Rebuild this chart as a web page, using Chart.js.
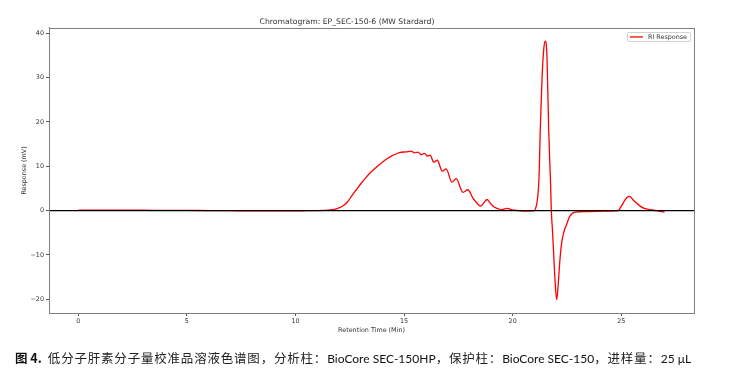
<!DOCTYPE html>
<html>
<head>
<meta charset="utf-8">
<script src="https://cdn.jsdelivr.net/npm/chart.js@4.4.1/dist/chart.umd.min.js"></script>
<style>
  html, body { margin: 0; padding: 0; background: #fff; }
  #wrap { position: relative; width: 748px; height: 369px; }
  #caption {
    position: absolute; left: 15px; top: 349px; white-space: nowrap;
    font-family: "Lato", "Noto Sans CJK SC", sans-serif; font-size: 12px; color: #111;
    line-height: 18px;
  }
  #caption .zh { font-family: "Noto Sans CJK SC", sans-serif; font-size: 12.5px; letter-spacing: 0.8px; color: #222; }
  #caption .first { margin-left: 3px; }
  #caption b { font-family: "Noto Sans CJK SC", sans-serif; font-weight: 700; font-size: 12.5px; }
</style>
</head>
<body>
<div id="wrap">
  <canvas id="chromChart"></canvas>
  <div id="caption"><b>图 4.</b> <span class="zh first">低分子肝素分子量校准品溶液色谱图，分析柱：</span>BioCore SEC-150HP<span class="zh">，保护柱：</span>BioCore SEC-150<span class="zh">，进样量：</span>25 μL</div>
</div>
<script>
// retention time (min) and RI response (mV)
const retention = [
  0, 1, 2, 3, 4, 5, 6, 7, 8, 9, 10, 10.5, 11, 11.3, 11.6, 11.8,
  12, 12.2, 12.4, 12.6, 12.8, 13, 13.25, 13.5, 13.75, 14, 14.25, 14.5, 14.79,
  15.1, 15.33, 15.48, 15.64, 15.79, 15.94, 16.07, 16.2, 16.37, 16.53, 16.76,
  16.94, 17.2, 17.4, 17.71, 17.94, 18.15, 18.35, 18.53, 18.68, 18.82, 18.98,
  19.15, 19.32, 19.48, 19.6, 19.74, 19.9, 20.17, 20.5, 20.8, 21, 21.06, 21.12,
  21.21, 21.24, 21.27, 21.35, 21.43, 21.5, 21.58, 21.66, 21.74, 21.78, 21.84,
  21.9, 21.96, 22.03, 22.1, 22.17, 22.25, 22.35, 22.47, 22.63, 22.86, 23.4,
  24, 24.5, 24.86, 25, 25.09, 25.2, 25.31, 25.38, 25.47, 25.55, 25.7, 25.85,
  26, 26.31, 26.6, 27
];
const response = [
  0.1, 0.1, 0.1, 0.08, 0.05, 0.03, 0, -0.02, -0.05, -0.05, -0.05, -0.03, 0, 0.05, 0.15, 0.3,
  0.6, 1.1, 2.0, 3.4, 4.7, 6.0, 7.5, 8.8, 9.9, 10.9, 11.8, 12.5, 13.1,
  13.25, 13.4, 13.0, 13.2, 12.6, 12.9, 12.3, 12.5, 10.9, 11.35, 8.9,
  9.4, 6.4, 7.2, 4.1, 4.7, 3.0, 1.7, 1.0, 1.8, 2.5, 1.6,
  0.8, 0.45, 0.2, 0.35, 0.5, 0.3, 0.05, -0.1, -0.1, 0, 0.6, 1.8,
  7, 12, 18, 29.6, 36.3, 38.2, 34.8, 18, 7, 0, -5,
  -11, -16.5, -20.1, -16.5, -11.5, -7.5, -5, -3.3, -1.3, -0.35, -0.2,
  -0.15, -0.1, 0, 1.0, 1.7, 2.6, 3.1, 3.2, 2.9, 2.4, 1.7, 1.1,
  0.6, 0.2, 0, -0.35
];

const xTicks = [0, 5, 10, 15, 20, 25];
const yTicks = [-20, -10, 0, 10, 20, 30, 40];
const X_MIN = -1.35, X_MAX = 28.35;
const Y_MIN = -23.1, Y_MAX = 41.2;

const tickFont = { family: "DejaVu Sans", size: 6.4 };

const frame = {
  id: "frame",
  afterDatasetsDraw(chart) {
    const { ctx, chartArea: a } = chart;
    ctx.save();
    ctx.strokeStyle = "#7f7f7f";
    ctx.lineWidth = 1;
    ctx.strokeRect(Math.round(a.left) + 0.5, Math.round(a.top) + 0.5,
      Math.round(a.right - a.left), Math.round(a.bottom - a.top));
    ctx.restore();
  },
  afterDraw(chart) {
    // matplotlib-like legend, top right inside the plot
    const ds = chart.data.datasets.find((d) => d.label);
    const { ctx, chartArea: a } = chart;
    ctx.save();
    ctx.font = "6.4px 'DejaVu Sans'";
    const tw = ctx.measureText(ds.label).width;
    const w = 3 + 13 + 5 + tw + 3;
    const h = 9;
    const x = a.right - 4 - w;
    const y = a.top + 4;
    ctx.fillStyle = "rgba(255,255,255,0.8)";
    ctx.strokeStyle = "#d0d0d0";
    ctx.lineWidth = 1;
    ctx.beginPath();
    ctx.roundRect(x + 0.5, y + 0.5, w, h, 1.5);
    ctx.fill();
    ctx.stroke();
    ctx.strokeStyle = ds.borderColor;
    ctx.lineWidth = 1.3;
    ctx.beginPath();
    ctx.moveTo(x + 3, y + 5);
    ctx.lineTo(x + 16, y + 5);
    ctx.stroke();
    ctx.fillStyle = "#333";
    ctx.textBaseline = "middle";
    ctx.fillText(ds.label, x + 21, y + 5);
    ctx.restore();
  },
};

new Chart(document.getElementById("chromChart"), {
  type: "line",
  data: {
    datasets: [
      {
        label: "RI Response",
        data: retention.map((t, i) => ({ x: t, y: response[i] })),
        borderColor: "#ff0000",
        borderWidth: 1.3,
        pointRadius: 0,
        cubicInterpolationMode: "monotone",
        order: 1,
      },
      {
        label: "",
        data: [{ x: X_MIN, y: 0 }, { x: X_MAX, y: 0 }],
        borderColor: "#000",
        borderWidth: 1.2,
        pointRadius: 0,
        order: 0,
      },
    ],
  },
  plugins: [frame],
  options: {
    responsive: true,
    maintainAspectRatio: false,
    animation: false,
    layout: { padding: { left: 0, right: 54, top: 0, bottom: 35 } },
    plugins: {
      legend: { display: false },
      tooltip: { enabled: false },
      title: {
        display: true,
        text: "Chromatogram: EP_SEC-150-6 (MW Stardard)",
        color: "#333",
        font: { family: "DejaVu Sans", size: 7.7, weight: "normal" },
        padding: { top: 17.5, bottom: 1.2 },
      },
    },
    scales: {
      x: {
        type: "linear",
        min: X_MIN,
        max: X_MAX,
        afterBuildTicks: (s) => { s.ticks = xTicks.map((v) => ({ value: v })); },
        afterFit: (s) => { s.height = 21; },
        ticks: { font: tickFont, color: "#333", padding: 2, maxRotation: 0 },
        grid: { drawOnChartArea: false, tickLength: 3, tickColor: "#555" },
        border: { color: "#7f7f7f" },
        title: {
          display: true,
          text: "Retention Time (Min)",
          color: "#333",
          font: tickFont,
          padding: { top: 0, bottom: 0 },
        },
      },
      y: {
        type: "linear",
        min: Y_MIN,
        max: Y_MAX,
        afterBuildTicks: (s) => { s.ticks = yTicks.map((v) => ({ value: v })); },
        afterFit: (s) => { s.width = 49; },
        ticks: {
          font: tickFont,
          color: "#333",
          padding: 2,
          callback: (v) => (v < 0 ? "\u2212" + Math.abs(v) : String(v)),
        },
        grid: { drawOnChartArea: false, tickLength: 3, tickColor: "#555" },
        border: { color: "#7f7f7f" },
        title: {
          display: true,
          text: "Response (mV)",
          color: "#333",
          font: tickFont,
          padding: { top: 21, bottom: 0 },
        },
      },
    },
  },
});
</script>
</body>
</html>
